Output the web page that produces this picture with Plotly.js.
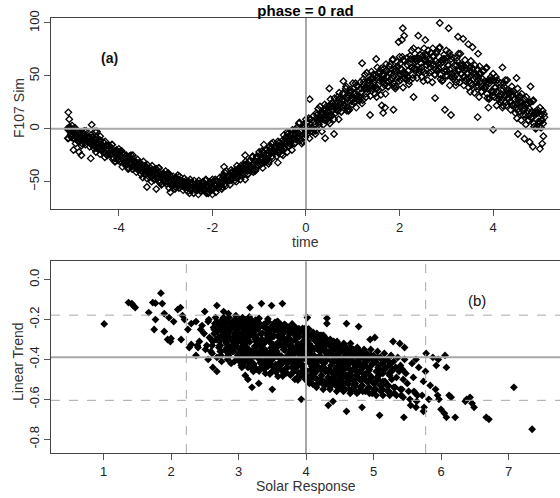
<!DOCTYPE html>
<html><head><meta charset="utf-8">
<script src="https://cdn.plot.ly/plotly-3.0.1.min.js"></script>
<style>html,body{margin:0;padding:0;background:#fff}#chart{width:560px;height:498px}</style>
</head><body><div id="chart"></div>
<script>
// ---- Panel (a): F107 Sim vs time ----
const timeA=[
-5.1,-5.075,-5.05,-5.025,-5,-4.975,-4.95,-4.925,-4.9,-4.875,
-4.85,-4.825,-4.8,-4.775,-4.75,-4.725,-4.7,-4.675,-4.65,-4.625,
-4.6,-4.575,-4.55,-4.525,-4.5,-4.475,-4.45,-4.425,-4.4,-4.375,
-4.35,-4.325,-4.3,-4.275,-4.25,-4.225,-4.2,-4.175,-4.15,-4.125,
-4.1,-4.075,-4.05,-4.025,-4,-3.975,-3.95,-3.925,-3.9,-3.875,
-3.85,-3.825,-3.8,-3.775,-3.75,-3.725,-3.7,-3.675,-3.65,-3.625,
-3.6,-3.575,-3.55,-3.525,-3.5,-3.475,-3.45,-3.425,-3.4,-3.375,
-3.35,-3.325,-3.3,-3.275,-3.25,-3.225,-3.2,-3.175,-3.15,-3.125,
-3.1,-3.075,-3.05,-3.025,-3,-2.975,-2.95,-2.925,-2.9,-2.875,
-2.85,-2.825,-2.8,-2.775,-2.75,-2.725,-2.7,-2.675,-2.65,-2.625,
-2.6,-2.575,-2.55,-2.525,-2.5,-2.475,-2.45,-2.425,-2.4,-2.375,
-2.35,-2.325,-2.3,-2.275,-2.25,-2.225,-2.2,-2.175,-2.15,-2.125,
-2.1,-2.075,-2.05,-2.025,-2,-1.975,-1.95,-1.925,-1.9,-1.875,
-1.85,-1.825,-1.8,-1.775,-1.75,-1.725,-1.7,-1.675,-1.65,-1.625,
-1.6,-1.575,-1.55,-1.525,-1.5,-1.475,-1.45,-1.425,-1.4,-1.375,
-1.35,-1.325,-1.3,-1.275,-1.25,-1.225,-1.2,-1.175,-1.15,-1.125,
-1.1,-1.075,-1.05,-1.025,-1,-0.975,-0.95,-0.925,-0.9,-0.875,
-0.85,-0.825,-0.8,-0.775,-0.75,-0.725,-0.7,-0.675,-0.65,-0.625,
-0.6,-0.575,-0.55,-0.525,-0.5,-0.475,-0.45,-0.425,-0.4,-0.375,
-0.35,-0.325,-0.3,-0.275,-0.25,-0.225,-0.2,-0.175,-0.15,-0.125,
-0.1,-0.075,-0.05,-0.025,0,0.025,0.05,0.075,0.1,0.125,
0.15,0.175,0.2,0.225,0.25,0.275,0.3,0.325,0.35,0.375,
0.4,0.425,0.45,0.475,0.5,0.525,0.55,0.575,0.6,0.625,
0.65,0.675,0.7,0.725,0.75,0.775,0.8,0.825,0.85,0.875,
0.9,0.925,0.95,0.975,1,1.025,1.05,1.075,1.1,1.125,
1.15,1.175,1.2,1.225,1.25,1.275,1.3,1.325,1.35,1.375,
1.4,1.425,1.45,1.475,1.5,1.525,1.55,1.575,1.6,1.625,
1.65,1.675,1.7,1.725,1.75,1.775,1.8,1.825,1.85,1.875,
1.9,1.925,1.95,1.975,2,2.025,2.05,2.075,2.1,2.125,
2.15,2.175,2.2,2.225,2.25,2.275,2.3,2.325,2.35,2.375,
2.4,2.425,2.45,2.475,2.5,2.525,2.55,2.575,2.6,2.625,
2.65,2.675,2.7,2.725,2.75,2.775,2.8,2.825,2.85,2.875,
2.9,2.925,2.95,2.975,3,3.025,3.05,3.075,3.1,3.125,
3.15,3.175,3.2,3.225,3.25,3.275,3.3,3.325,3.35,3.375,
3.4,3.425,3.45,3.475,3.5,3.525,3.55,3.575,3.6,3.625,
3.65,3.675,3.7,3.725,3.75,3.775,3.8,3.825,3.85,3.875,
3.9,3.925,3.95,3.975,4,4.025,4.05,4.075,4.1,4.125,
4.15,4.175,4.2,4.225,4.25,4.275,4.3,4.325,4.35,4.375,
4.4,4.425,4.45,4.475,4.5,4.525,4.55,4.575,4.6,4.625,
4.65,4.675,4.7,4.725,4.75,4.775,4.8,4.825,4.85,4.875,
4.9,4.925,4.95,4.975,5,5.025,5.05,5.075,5.1];
const f107A=[
0,-9,2,-5,3,-9,-4,-14,-2,-9,
-12,-6,-16,-3,-9,-13,-2,-11,-8,-17,
-6,-15,-12,-19,-10,-8,-19,-14,-24,-15,
-19,-13,-27,-16,-25,-19,-16,-24,-15,-29,
-21,-31,-20,-27,-19,-31,-26,-36,-24,-31,
-34,-28,-38,-26,-32,-36,-25,-35,-31,-41,
-29,-38,-36,-43,-34,-31,-43,-38,-47,-38,
-43,-37,-50,-39,-48,-42,-38,-47,-37,-51,
-43,-52,-42,-48,-40,-52,-47,-56,-45,-52,
-54,-48,-57,-46,-51,-54,-45,-53,-50,-58,
-47,-55,-53,-59,-50,-48,-58,-53,-61,-53,
-56,-51,-62,-52,-59,-54,-50,-57,-49,-61,
-53,-60,-50,-56,-48,-57,-53,-60,-50,-55,
-55,-49,-57,-44,-49,-52,-40,-49,-45,-53,
-39,-47,-43,-49,-39,-35,-46,-40,-48,-38,
-42,-34,-48,-34,-43,-35,-30,-38,-27,-41,
-30,-39,-26,-32,-22,-34,-28,-37,-23,-29,
-31,-23,-33,-17,-23,-26,-13,-22,-16,-26,
-12,-22,-17,-24,-11,-6,-19,-12,-22,-9,
-14,-5,-20,-5,-14,-5,1,-8,5,-11,
-1,-12,4,-4,9,-5,2,-9,9,1,
-3,7,-5,15,8,4,21,9,16,4,
23,10,16,7,22,28,12,21,9,24,
18,30,9,28,16,27,34,22,38,17,
32,18,37,28,43,25,34,20,40,30,
27,38,24,47,38,33,53,38,46,31,
54,38,44,33,51,58,37,48,32,51,
44,57,33,55,40,53,61,46,65,40,
57,40,63,50,68,46,56,39,64,51,
46,60,42,69,58,51,76,57,66,48,
74,55,62,49,69,76,52,64,46,66,
58,72,44,68,51,64,73,55,76,47,
65,46,70,56,74,50,60,41,66,52,
47,60,41,67,55,48,71,52,60,41,
65,47,53,39,58,64,41,52,34,52,
44,56,30,52,35,47,55,38,57,29,
46,29,49,36,52,30,39,22,43,31,
25,37,20,43,32,25,46,28,35,18,
40,23,28,15,32,38,16,25,8,25,
17,28,4,23,8,19,25,10,26,2,
16,1,18,7,20,1,8,-7,11];
const timeB=[
-5.09,-5.04,-4.99,-4.94,-4.89,-4.84,-4.79,-4.74,-4.69,-4.64,
-4.59,-4.54,-4.49,-4.44,-4.39,-4.34,-4.29,-4.24,-4.19,-4.14,
-4.09,-4.04,-3.99,-3.94,-3.89,-3.84,-3.79,-3.74,-3.69,-3.64,
-3.59,-3.54,-3.49,-3.44,-3.39,-3.34,-3.29,-3.24,-3.19,-3.14,
-3.09,-3.04,-2.99,-2.94,-2.89,-2.84,-2.79,-2.74,-2.69,-2.64,
-2.59,-2.54,-2.49,-2.44,-2.39,-2.34,-2.29,-2.24,-2.19,-2.14,
-2.09,-2.04,-1.99,-1.94,-1.89,-1.84,-1.79,-1.74,-1.69,-1.64,
-1.59,-1.54,-1.49,-1.44,-1.39,-1.34,-1.29,-1.24,-1.19,-1.14,
-1.09,-1.04,-0.99,-0.94,-0.89,-0.84,-0.79,-0.74,-0.69,-0.64,
-0.59,-0.54,-0.49,-0.44,-0.39,-0.34,-0.29,-0.24,-0.19,-0.14,
-0.09,-0.04,0.01,0.06,0.11,0.16,0.21,0.26,0.31,0.36,
0.41,0.46,0.51,0.56,0.61,0.66,0.71,0.76,0.81,0.86,
0.91,0.96,1.01,1.06,1.11,1.16,1.21,1.26,1.31,1.36,
1.41,1.46,1.51,1.56,1.61,1.66,1.71,1.76,1.81,1.86,
1.91,1.96,2.01,2.06,2.11,2.16,2.21,2.26,2.31,2.36,
2.41,2.46,2.51,2.56,2.61,2.66,2.71,2.76,2.81,2.86,
2.91,2.96,3.01,3.06,3.11,3.16,3.21,3.26,3.31,3.36,
3.41,3.46,3.51,3.56,3.61,3.66,3.71,3.76,3.81,3.86,
3.91,3.96,4.01,4.06,4.11,4.16,4.21,4.26,4.31,4.36,
4.41,4.46,4.51,4.56,4.61,4.66,4.71,4.76,4.81,4.86,
4.91,4.96,5.01,5.06];
const f107B=[
-9,0,-6,1,-11,-3,-14,-2,-11,-9,
-15,-12,-22,-11,-11,-16,-12,-25,-24,-15,
-31,-22,-28,-21,-33,-25,-37,-25,-34,-32,
-39,-36,-46,-35,-34,-40,-35,-48,-46,-37,
-53,-43,-49,-42,-53,-45,-55,-44,-52,-50,
-56,-53,-61,-51,-49,-54,-49,-59,-57,-48,
-61,-52,-55,-48,-56,-46,-55,-41,-49,-45,
-48,-43,-50,-38,-35,-38,-31,-43,-39,-26,
-40,-27,-31,-21,-32,-20,-31,-14,-22,-17,
-23,-16,-25,-9,-5,-10,-1,-14,-9,6,
-14,2,-3,10,-2,12,-2,19,9,15,
8,16,5,24,29,24,34,16,22,40,
17,35,28,43,27,44,27,51,38,45,
36,44,30,52,57,50,61,40,46,66,
38,59,51,68,48,67,45,74,57,64,
53,62,45,69,74,65,76,51,55,77,
45,66,55,72,49,67,44,71,52,58,
45,52,35,57,60,50,59,35,39,58,
28,46,35,49,28,43,22,46,29,34,
22,28,10,30,33,22,30,8,11,27,
0,15,6,17];
const timeC=[
-5.065,-5.015,-4.965,-4.915,-4.865,-4.815,-4.765,-4.715,-4.665,-4.615,
-4.565,-4.515,-4.465,-4.415,-4.365,-4.315,-4.265,-4.215,-4.165,-4.115,
-4.065,-4.015,-3.965,-3.915,-3.865,-3.815,-3.765,-3.715,-3.665,-3.615,
-3.565,-3.515,-3.465,-3.415,-3.365,-3.315,-3.265,-3.215,-3.165,-3.115,
-3.065,-3.015,-2.965,-2.915,-2.865,-2.815,-2.765,-2.715,-2.665,-2.615,
-2.565,-2.515,-2.465,-2.415,-2.365,-2.315,-2.265,-2.215,-2.165,-2.115,
-2.065,-2.015,-1.965,-1.915,-1.865,-1.815,-1.765,-1.715,-1.665,-1.615,
-1.565,-1.515,-1.465,-1.415,-1.365,-1.315,-1.265,-1.215,-1.165,-1.115,
-1.065,-1.015,-0.965,-0.915,-0.865,-0.815,-0.765,-0.715,-0.665,-0.615,
-0.565,-0.515,-0.465,-0.415,-0.365,-0.315,-0.265,-0.215,-0.165,-0.115,
-0.065,-0.015,0.035,0.085,0.135,0.185,0.235,0.285,0.335,0.385,
0.435,0.485,0.535,0.585,0.635,0.685,0.735,0.785,0.835,0.885,
0.935,0.985,1.035,1.085,1.135,1.185,1.235,1.285,1.335,1.385,
1.435,1.485,1.535,1.585,1.635,1.685,1.735,1.785,1.835,1.885,
1.935,1.985,2.035,2.085,2.135,2.185,2.235,2.285,2.335,2.385,
2.435,2.485,2.535,2.585,2.635,2.685,2.735,2.785,2.835,2.885,
2.935,2.985,3.035,3.085,3.135,3.185,3.235,3.285,3.335,3.385,
3.435,3.485,3.535,3.585,3.635,3.685,3.735,3.785,3.835,3.885,
3.935,3.985,4.035,4.085,4.135,4.185,4.235,4.285,4.335,4.385,
4.435,4.485,4.535,4.585,4.635,4.685,4.735,4.785,4.835,4.885,
4.935,4.985,5.035,5.085];
const f107C=[
0,-8,-4,-1,-9,-9,-5,-15,-9,-8,
-8,-17,-13,-17,-21,-22,-20,-16,-24,-22,
-22,-30,-26,-23,-31,-31,-28,-38,-32,-32,
-32,-40,-36,-40,-45,-45,-43,-38,-46,-44,
-43,-51,-47,-44,-52,-51,-47,-56,-51,-50,
-49,-56,-52,-55,-58,-58,-55,-51,-57,-54,
-52,-58,-53,-49,-55,-51,-45,-54,-46,-44,
-40,-46,-40,-42,-44,-43,-38,-31,-37,-33,
-28,-35,-28,-22,-29,-26,-19,-28,-19,-15,
-13,-20,-12,-14,-16,-15,-9,-1,-7,-2,
1,-8,1,9,1,4,13,1,13,18,
21,12,21,18,15,17,23,33,24,29,
34,23,33,41,31,34,44,30,43,47,
51,38,49,45,39,41,49,59,48,54,
58,45,56,65,52,55,66,48,63,67,
70,55,66,60,53,54,61,71,57,62,
66,50,60,69,52,54,64,44,57,59,
60,45,54,47,40,40,45,54,40,44,
46,31,39,46,31,32,40,22,33,35,
35,20,28,21,13,13,17,25,11,15,
15,2,8,14];
const timeD=[
-5.08,-5.03,-4.98,-4.93,-4.88,-4.83,-4.78,-4.73,-4.68,-4.63,
-4.58,-4.53,-4.48,-4.43,-4.38,-4.33,-4.28,-4.23,-4.18,-4.13,
-4.08,-4.03,-3.98,-3.93,-3.88,-3.83,-3.78,-3.73,-3.68,-3.63,
-3.58,-3.53,-3.48,-3.43,-3.38,-3.33,-3.28,-3.23,-3.18,-3.13,
-3.08,-3.03,-2.98,-2.93,-2.88,-2.83,-2.78,-2.73,-2.68,-2.63,
-2.58,-2.53,-2.48,-2.43,-2.38,-2.33,-2.28,-2.23,-2.18,-2.13,
-2.08,-2.03,-1.98,-1.93,-1.88,-1.83,-1.78,-1.73,-1.68,-1.63,
-1.58,-1.53,-1.48,-1.43,-1.38,-1.33,-1.28,-1.23,-1.18,-1.13,
-1.08,-1.03,-0.98,-0.93,-0.88,-0.83,-0.78,-0.73,-0.68,-0.63,
-0.58,-0.53,-0.48,-0.43,-0.38,-0.33,-0.28,-0.23,-0.18,-0.13,
-0.08,-0.03,0.02,0.07,0.12,0.17,0.22,0.27,0.32,0.37,
0.42,0.47,0.52,0.57,0.62,0.67,0.72,0.77,0.82,0.87,
0.92,0.97,1.02,1.07,1.12,1.17,1.22,1.27,1.32,1.37,
1.42,1.47,1.52,1.57,1.62,1.67,1.72,1.77,1.82,1.87,
1.92,1.97,2.02,2.07,2.12,2.17,2.22,2.27,2.32,2.37,
2.42,2.47,2.52,2.57,2.62,2.67,2.72,2.77,2.82,2.87,
2.92,2.97,3.02,3.07,3.12,3.17,3.22,3.27,3.32,3.37,
3.42,3.47,3.52,3.57,3.62,3.67,3.72,3.77,3.82,3.87,
3.92,3.97,4.02,4.07,4.12,4.17,4.22,4.27,4.32,4.37,
4.42,4.47,4.52,4.57,4.62,4.67,4.72,4.77,4.82,4.87,
4.92,4.97,5.02,5.07];
const f107D=[
-1,-6,-1,-7,-11,-11,-7,-10,-8,-13,
-10,-15,-18,-11,-16,-18,-16,-23,-21,-27,
-23,-28,-22,-28,-33,-34,-29,-32,-31,-37,
-33,-38,-41,-35,-40,-42,-39,-45,-43,-49,
-45,-49,-43,-49,-53,-53,-49,-51,-49,-54,
-51,-55,-57,-51,-54,-55,-52,-57,-54,-59,
-54,-57,-50,-54,-56,-54,-47,-49,-45,-49,
-42,-45,-46,-37,-40,-40,-34,-39,-35,-39,
-31,-34,-25,-29,-31,-29,-21,-22,-17,-21,
-16,-19,-19,-8,-11,-12,-5,-10,-4,-9,
-2,-5,6,1,-2,-1,10,8,15,9,
18,13,12,25,21,21,29,21,27,20,
31,26,38,31,28,29,41,38,45,38,
47,41,38,54,47,47,55,45,52,43,
55,48,62,53,48,49,62,58,66,56,
66,58,54,70,62,61,69,56,62,51,
63,54,67,56,49,49,60,55,60,49,
57,48,43,57,49,46,53,40,45,33,
43,35,46,35,28,27,37,31,36,26,
32,23,18,31,22,19,24,12,16,5,
14,5,14,5];
const timeOut=[-5.08,-5.06,-4.47,-4.40,-4.58,-4.51,-4.97,-4.8,-4.85,-4.6,
-3.4,-3.2,-2.9,-2.0,-1.75,-1.3,-0.9,-0.6,-0.4,0.08,
0.34,0.41,0.6,1.37,1.65,1.69,1.87,1.62,1.98,2.05,
2.1,2.07,2.86,3.05,3.25,3.36,3.47,3.56,3.68,2.76,
2.97,3.1,3.67,4.0,4.53,4.67,4.78,4.85,5.0,5.05,
1.2,1.5,0.8,0.5,2.4,2.55,4.2,4.5,4.8,2.3,3.9];
const f107Out=[15.5,9,-2.5,-7,3.8,-2.5,-20,-25,-22,-28,
-55,-57,-60,-62,-36,-25,-15,-32,-3,28,
-2.5,-9,-5,13,15,20,18,22,82,84,
88,95,100,95,87,85,80,77,71,29,
18,13,11,-1,-5,-9.5,-12.5,-17,-19,-14,
62,66,45,38,88,84,58,48,40,30,20];

// ---- Panel (b): Linear Trend vs Solar Response ----
const solarCore=[
2.37,2.42,2.44,2.39,
2.46,2.53,2.49,2.51,2.55,
2.56,2.62,2.59,2.64,2.57,2.61,2.65,
2.66,2.72,2.69,2.74,2.71,2.67,2.73,2.68,2.75,
2.76,2.82,2.79,2.84,2.77,2.81,2.85,2.78,2.83,2.8,2.75,
2.86,2.92,2.88,2.94,2.9,2.87,2.93,2.89,2.95,2.91,2.85,2.94,2.88,
2.96,3.02,2.98,3.04,3.0,2.97,3.03,2.99,3.05,3.01,2.955,3.035,2.985,3.015,3.045,
3.06,3.12,3.08,3.14,3.1,3.07,3.13,3.09,3.15,3.11,3.055,3.135,3.085,3.115,3.145,3.065,
3.16,3.23,3.2,3.18,3.245,3.17,3.21,3.24,3.155,3.22,3.19,3.235,3.165,3.225,3.185,3.205,3.25,3.175,
3.27,3.31,3.34,3.255,3.32,3.29,3.335,3.265,3.325,3.285,3.305,3.35,3.275,3.26,3.33,3.3,3.28,3.345,
3.36,3.43,3.4,3.38,3.445,3.37,3.41,3.44,3.355,3.42,3.39,3.435,3.365,3.425,3.385,3.405,3.45,3.375,
3.535,3.465,3.525,3.485,3.505,3.55,3.475,3.46,3.53,3.5,3.48,3.545,3.47,3.51,3.54,3.455,3.52,3.49,
3.555,3.62,3.59,3.635,3.565,3.625,3.585,3.605,3.65,3.575,3.56,3.63,3.6,3.58,3.645,3.57,3.61,3.64,
3.7,3.68,3.745,3.67,3.71,3.74,3.655,3.72,3.69,3.735,3.665,3.725,3.685,3.705,3.75,3.675,3.66,3.73,
3.785,3.805,3.85,3.775,3.76,3.83,3.8,3.78,3.845,3.77,3.81,3.84,3.755,3.82,3.79,3.835,3.765,3.825,
3.91,3.94,3.855,3.92,3.89,3.935,3.865,3.925,3.885,3.905,3.95,3.875,3.86,3.93,3.9,3.88,3.945,3.87,
4.05,3.975,3.96,4.03,4.0,3.98,4.045,3.97,4.01,4.04,3.955,4.02,3.99,4.035,3.965,4.025,3.985,4.005,
4.09,4.135,4.065,4.125,4.085,4.105,4.15,4.075,4.06,4.13,4.1,4.08,4.145,4.07,4.11,4.14,4.055,4.12,
4.16,4.22,4.18,4.24,4.2,4.17,4.23,4.19,4.25,4.21,4.155,4.235,4.185,4.215,4.245,4.165,4.205,
4.26,4.32,4.28,4.34,4.3,4.27,4.33,4.29,4.35,4.31,4.255,4.335,4.285,4.315,4.345,4.265,
4.36,4.42,4.38,4.44,4.4,4.37,4.43,4.39,4.45,4.41,4.355,4.435,4.385,4.415,4.445,
4.46,4.52,4.48,4.54,4.5,4.47,4.53,4.49,4.55,4.51,4.455,4.535,4.485,4.515,
4.56,4.62,4.58,4.64,4.6,4.57,4.63,4.59,4.65,4.61,4.555,4.635,4.585,
4.66,4.72,4.68,4.74,4.7,4.67,4.73,4.69,4.75,4.71,4.655,4.735,
4.76,4.82,4.78,4.84,4.8,4.77,4.83,4.79,4.85,4.81,4.755,
4.86,4.92,4.88,4.94,4.9,4.87,4.93,4.89,4.95,4.91,
4.96,5.02,4.98,5.04,5.0,4.97,5.03,4.99,5.05,
5.06,5.12,5.08,5.14,5.1,5.07,5.13,5.09,
5.16,5.22,5.18,5.24,5.2,5.17,5.23,
5.26,5.32,5.28,5.34,5.3,5.27,
5.36,5.42,5.38,5.44,5.4,
5.46,5.52,5.48,5.54,5.5,
5.57,5.62,5.59,5.64,
5.67,5.72,5.74,
5.77,5.82,5.84];
const trendCore=[
-0.21,-0.31,-0.25,-0.33,
-0.23,-0.33,-0.27,-0.35,-0.21,
-0.2,-0.31,-0.36,-0.25,-0.29,-0.37,-0.22,
-0.19,-0.33,-0.26,-0.38,-0.23,-0.3,-0.36,-0.21,-0.28,
-0.2,-0.36,-0.26,-0.4,-0.23,-0.31,-0.38,-0.19,-0.34,-0.28,-0.41,
-0.19,-0.33,-0.25,-0.41,-0.22,-0.36,-0.29,-0.42,-0.2,-0.31,-0.38,-0.27,-0.35,
-0.18,-0.35,-0.24,-0.43,-0.21,-0.31,-0.39,-0.27,-0.44,-0.2,-0.33,-0.37,-0.25,-0.41,-0.29,
-0.19,-0.34,-0.26,-0.44,-0.21,-0.3,-0.4,-0.23,-0.37,-0.28,-0.43,-0.2,-0.33,-0.39,-0.25,-0.32,
-0.187,-0.369,-0.243,-0.439,-0.299,-0.404,-0.215,-0.334,-0.271,-0.46,-0.229,-0.383,-0.313,-0.425,-0.201,-0.355,-0.257,-0.397,
-0.332,-0.227,-0.437,-0.283,-0.381,-0.199,-0.353,-0.311,-0.416,-0.241,-0.458,-0.269,-0.367,-0.213,-0.325,-0.395,-0.297,-0.423,
-0.344,-0.281,-0.47,-0.239,-0.393,-0.323,-0.435,-0.211,-0.365,-0.267,-0.407,-0.197,-0.379,-0.253,-0.449,-0.309,-0.414,-0.225,
-0.256,-0.473,-0.284,-0.382,-0.228,-0.34,-0.41,-0.312,-0.438,-0.347,-0.242,-0.452,-0.298,-0.396,-0.214,-0.368,-0.326,-0.431,
-0.464,-0.324,-0.429,-0.24,-0.359,-0.296,-0.485,-0.254,-0.408,-0.338,-0.45,-0.226,-0.38,-0.282,-0.422,-0.212,-0.394,-0.268,
-0.406,-0.224,-0.378,-0.336,-0.441,-0.266,-0.483,-0.294,-0.392,-0.238,-0.35,-0.42,-0.322,-0.448,-0.357,-0.252,-0.462,-0.308,
-0.353,-0.465,-0.241,-0.395,-0.297,-0.437,-0.227,-0.409,-0.283,-0.479,-0.339,-0.444,-0.255,-0.374,-0.311,-0.5,-0.269,-0.423,
-0.258,-0.37,-0.44,-0.342,-0.468,-0.377,-0.272,-0.482,-0.328,-0.426,-0.244,-0.398,-0.356,-0.461,-0.286,-0.503,-0.314,-0.412,
-0.52,-0.289,-0.443,-0.373,-0.485,-0.261,-0.415,-0.317,-0.457,-0.247,-0.429,-0.303,-0.499,-0.359,-0.464,-0.275,-0.394,-0.331,
-0.397,-0.292,-0.502,-0.348,-0.446,-0.264,-0.418,-0.376,-0.481,-0.306,-0.523,-0.334,-0.432,-0.278,-0.39,-0.46,-0.362,-0.488,
-0.27,-0.45,-0.33,-0.52,-0.29,-0.41,-0.48,-0.31,-0.44,-0.36,-0.54,-0.28,-0.39,-0.5,-0.34,-0.43,-0.38,
-0.28,-0.46,-0.35,-0.53,-0.3,-0.42,-0.49,-0.33,-0.45,-0.38,-0.55,-0.31,-0.4,-0.51,-0.36,-0.44,
-0.3,-0.47,-0.36,-0.53,-0.32,-0.43,-0.5,-0.34,-0.46,-0.39,-0.55,-0.33,-0.41,-0.49,-0.38,
-0.31,-0.48,-0.37,-0.55,-0.33,-0.44,-0.51,-0.35,-0.47,-0.4,-0.56,-0.34,-0.42,-0.5,
-0.32,-0.49,-0.38,-0.55,-0.34,-0.45,-0.52,-0.36,-0.47,-0.41,-0.56,-0.35,-0.43,
-0.32,-0.5,-0.39,-0.56,-0.35,-0.46,-0.53,-0.37,-0.48,-0.42,-0.57,-0.44,
-0.34,-0.5,-0.4,-0.56,-0.36,-0.47,-0.53,-0.38,-0.49,-0.43,-0.57,
-0.35,-0.51,-0.41,-0.57,-0.37,-0.48,-0.54,-0.39,-0.5,-0.44,
-0.35,-0.52,-0.42,-0.58,-0.38,-0.49,-0.55,-0.4,-0.46,
-0.36,-0.53,-0.43,-0.58,-0.39,-0.5,-0.55,-0.45,
-0.37,-0.53,-0.44,-0.58,-0.4,-0.51,-0.47,
-0.38,-0.54,-0.45,-0.58,-0.41,-0.5,
-0.39,-0.55,-0.46,-0.59,-0.43,
-0.4,-0.56,-0.47,-0.6,-0.52,
-0.42,-0.57,-0.49,-0.61,
-0.44,-0.58,-0.51,
-0.46,-0.6,-0.53];
const solarCore2=[
2.77,2.73,2.76,2.74,2.78,
2.87,2.83,2.86,2.84,2.88,2.82,2.85,
2.97,2.93,2.96,2.94,2.98,2.92,2.95,2.99,
3.07,3.03,3.06,3.04,3.08,3.02,3.05,3.09,3.01,3.065,
3.17,3.13,3.16,3.14,3.18,3.12,3.15,3.19,3.11,3.165,3.135,
3.27,3.22,3.29,3.24,3.25,3.285,3.21,3.265,3.23,3.295,3.205,3.28,
3.34,3.35,3.385,3.31,3.365,3.33,3.395,3.305,3.38,3.37,3.32,3.39,
3.41,3.465,3.43,3.495,3.405,3.48,3.47,3.42,3.49,3.44,3.45,3.485,
3.595,3.505,3.58,3.57,3.52,3.59,3.54,3.55,3.585,3.51,3.565,3.53,
3.62,3.69,3.64,3.65,3.685,3.61,3.665,3.63,3.695,3.605,3.68,3.67,
3.75,3.785,3.71,3.765,3.73,3.795,3.705,3.78,3.77,3.72,3.79,3.74,
3.865,3.83,3.895,3.805,3.88,3.87,3.82,3.89,3.84,3.85,3.885,3.81,
3.905,3.98,3.97,3.92,3.99,3.94,3.95,3.985,3.91,3.965,3.93,3.995,
4.07,4.02,4.09,4.04,4.05,4.085,4.01,4.065,4.03,4.095,4.005,4.08,
4.17,4.13,4.16,4.14,4.18,4.12,4.15,4.19,4.11,4.165,4.135,
4.27,4.23,4.26,4.24,4.28,4.22,4.25,4.29,4.21,4.265,4.235,
4.37,4.33,4.36,4.34,4.38,4.32,4.35,4.39,4.31,4.365,
4.47,4.43,4.46,4.44,4.48,4.42,4.45,4.49,4.41,4.465,
4.57,4.53,4.56,4.54,4.58,4.52,4.55,4.59,4.51,
4.67,4.63,4.66,4.64,4.68,4.62,4.65,4.69,
4.77,4.73,4.76,4.74,4.78,4.72,4.75,4.79,
4.87,4.83,4.86,4.84,4.88,4.82,4.85,
4.97,4.93,4.96,4.94,4.98,4.92,
5.07,5.03,5.06,5.04,5.08,
5.17,5.13,5.16,5.14,
5.27,5.23,5.26];
const trendCore2=[
-0.25,-0.33,-0.28,-0.36,-0.22,
-0.24,-0.35,-0.29,-0.39,-0.22,-0.32,-0.27,
-0.26,-0.36,-0.21,-0.33,-0.4,-0.29,-0.23,-0.38,
-0.27,-0.38,-0.2,-0.34,-0.42,-0.3,-0.24,-0.36,-0.22,-0.41,
-0.28,-0.39,-0.21,-0.35,-0.44,-0.31,-0.24,-0.37,-0.2,-0.42,-0.3,
-0.308,-0.42,-0.245,-0.357,-0.203,-0.392,-0.28,-0.448,-0.224,-0.329,-0.259,-0.371,
-0.411,-0.299,-0.348,-0.236,-0.439,-0.271,-0.383,-0.194,-0.369,-0.32,-0.222,-0.355,
-0.216,-0.405,-0.293,-0.461,-0.237,-0.342,-0.272,-0.384,-0.321,-0.433,-0.258,-0.37,
-0.286,-0.398,-0.209,-0.384,-0.335,-0.237,-0.37,-0.426,-0.314,-0.363,-0.251,-0.454,
-0.249,-0.354,-0.284,-0.396,-0.333,-0.445,-0.27,-0.382,-0.228,-0.417,-0.305,-0.473,
-0.376,-0.264,-0.467,-0.299,-0.411,-0.222,-0.397,-0.348,-0.25,-0.383,-0.439,-0.327,
-0.288,-0.4,-0.246,-0.435,-0.323,-0.491,-0.267,-0.372,-0.302,-0.414,-0.351,-0.463,
-0.417,-0.368,-0.27,-0.403,-0.459,-0.347,-0.396,-0.284,-0.487,-0.319,-0.431,-0.242,
-0.343,-0.511,-0.287,-0.392,-0.322,-0.434,-0.371,-0.483,-0.308,-0.42,-0.266,-0.455,
-0.35,-0.47,-0.29,-0.43,-0.52,-0.38,-0.31,-0.45,-0.27,-0.5,-0.4,
-0.36,-0.48,-0.3,-0.44,-0.53,-0.39,-0.32,-0.46,-0.28,-0.51,-0.41,
-0.37,-0.49,-0.31,-0.45,-0.53,-0.4,-0.33,-0.47,-0.3,-0.51,
-0.38,-0.5,-0.32,-0.46,-0.54,-0.41,-0.34,-0.48,-0.31,-0.52,
-0.39,-0.51,-0.33,-0.47,-0.55,-0.42,-0.35,-0.49,-0.44,
-0.4,-0.51,-0.34,-0.48,-0.55,-0.43,-0.36,-0.5,
-0.41,-0.52,-0.36,-0.49,-0.56,-0.44,-0.38,-0.5,
-0.42,-0.53,-0.37,-0.5,-0.56,-0.45,-0.39,
-0.43,-0.54,-0.38,-0.5,-0.57,-0.46,
-0.44,-0.55,-0.39,-0.51,-0.48,
-0.45,-0.55,-0.41,-0.51,
-0.46,-0.56,-0.42];
const solarCore3=[
4.43,4.41,4.44,4.4,4.42,4.45,4.39,4.435,
4.53,4.5,4.54,4.51,4.52,4.55,4.49,4.535,
4.63,4.6,4.64,4.61,4.62,4.65,4.59,
4.73,4.7,4.74,4.71,4.72,4.75,4.69,
4.83,4.8,4.84,4.81,4.82,4.85,4.79,
4.93,4.9,4.94,4.91,4.92,4.95,
5.03,5.0,5.04,5.01,5.02,5.05,
5.13,5.1,5.14,5.11,5.12,
5.23,5.2,5.24,5.21,5.22,
5.33,5.3,5.34,5.31,
5.43,5.4,5.44,5.41,
2.63,2.6,2.64,2.61,
2.73,2.7,2.74,2.71,2.72,
2.83,2.8,2.84,2.81,2.82,2.85,
2.93,2.9,2.94,2.91,2.92,2.95,
3.03,3.0,3.04,3.01,3.02,3.05,2.99,
3.13,3.1,3.14,3.11,3.12,3.15,3.09];
const trendCore3=[
-0.35,-0.46,-0.4,-0.5,-0.33,-0.44,-0.38,-0.52,
-0.36,-0.47,-0.41,-0.51,-0.34,-0.45,-0.39,-0.53,
-0.37,-0.48,-0.42,-0.52,-0.35,-0.45,-0.4,
-0.38,-0.49,-0.43,-0.53,-0.36,-0.46,-0.41,
-0.39,-0.5,-0.44,-0.54,-0.37,-0.47,-0.42,
-0.4,-0.51,-0.45,-0.55,-0.38,-0.48,
-0.41,-0.52,-0.46,-0.55,-0.39,-0.49,
-0.42,-0.53,-0.47,-0.56,-0.4,
-0.43,-0.53,-0.48,-0.56,-0.41,
-0.44,-0.54,-0.49,-0.57,
-0.45,-0.55,-0.5,-0.58,
-0.24,-0.3,-0.27,-0.33,
-0.22,-0.29,-0.25,-0.34,-0.31,
-0.24,-0.3,-0.27,-0.35,-0.21,-0.33,
-0.23,-0.3,-0.27,-0.36,-0.21,-0.34,
-0.23,-0.31,-0.27,-0.37,-0.21,-0.34,-0.29,
-0.24,-0.32,-0.28,-0.38,-0.22,-0.35,-0.3];
const solarOut=[1.01,1.37,1.42,1.47,1.44,1.67,1.73,1.77,1.85,1.87,
1.9,1.75,1.77,1.9,1.95,1.99,2.0,1.97,2.04,2.1,
2.14,2.17,2.27,2.3,2.37,2.4,2.62,2.68,2.68,3.14,
3.2,2.68,2.78,2.85,3.17,3.34,3.49,3.65,4.31,4.6,
4.02,4.31,4.78,4.95,5.02,5.29,5.39,5.46,5.63,5.78,
5.88,5.96,6.06,5.93,6.08,7.08,7.35,6.67,6.71,6.49,
6.46,6.36,6.38,6.43,6.21,6.12,6.15,6.05,6.08,6.0,
5.74,5.75,5.55,5.63,5.45,5.09,4.6,4.33,4.4,3.93,
4.83,5.92,5.95,5.97,5.6,5.65,3.1,3.3,3.5,2.2,
2.25,2.15,2.3,2.5,2.55];
const trendOut=[-0.222,-0.115,-0.12,-0.14,-0.13,-0.165,-0.115,-0.118,-0.068,-0.12,
-0.17,-0.25,-0.2,-0.26,-0.3,-0.31,-0.295,-0.19,-0.21,-0.15,
-0.14,-0.18,-0.34,-0.325,-0.38,-0.34,-0.44,-0.46,-0.39,-0.5,
-0.54,-0.13,-0.16,-0.17,-0.14,-0.12,-0.13,-0.12,-0.194,-0.22,
-0.19,-0.22,-0.235,-0.3,-0.29,-0.31,-0.32,-0.34,-0.4,-0.37,
-0.39,-0.4,-0.38,-0.43,-0.44,-0.54,-0.75,-0.69,-0.7,-0.64,
-0.62,-0.61,-0.6,-0.59,-0.69,-0.58,-0.59,-0.67,-0.69,-0.65,
-0.66,-0.64,-0.63,-0.64,-0.69,-0.68,-0.66,-0.63,-0.61,-0.6,
-0.64,-0.55,-0.58,-0.6,-0.56,-0.58,-0.48,-0.52,-0.55,-0.2,
-0.25,-0.3,-0.22,-0.16,-0.4];

// reference lines (panel b): mean and dashed bounds
const trendMean=-0.389, trendBounds=[-0.178,-0.605];
const solarMean=4.0, solarBounds=[2.227,5.773];

const FONT='"Liberation Sans", Arial, sans-serif';
const axisBase={showgrid:false,zeroline:false,ticks:'outside',ticklen:6,tickwidth:1,tickcolor:'#555',
  showline:true,linecolor:'#444',linewidth:1,tickfont:{family:FONT,size:13,color:'#222'}};

const traces=[
 {x:timeA.concat(timeB,timeC,timeD,timeOut),y:f107A.concat(f107B,f107C,f107D,f107Out),type:'scatter',mode:'markers',xaxis:'x',yaxis:'y',
  marker:{symbol:'diamond-open',size:5,color:'#000',line:{width:1.35,color:'#000'}},hoverinfo:'skip'},
 {x:solarCore.concat(solarCore2,solarCore3,solarOut),y:trendCore.concat(trendCore2,trendCore3,trendOut),type:'scatter',mode:'markers',xaxis:'x2',yaxis:'y2',
  marker:{symbol:'diamond',size:6,color:'#000',line:{width:0}},hoverinfo:'skip'}
];

const gray='#a8a8a8';
const shapes=[
 {type:'line',xref:'x domain',yref:'y',x0:0,x1:1,y0:0,y1:0,line:{color:gray,width:2},layer:'above'},
 {type:'line',xref:'x',yref:'y domain',x0:0,x1:0,y0:0,y1:1,line:{color:gray,width:2},layer:'above'},
 {type:'line',xref:'x2 domain',yref:'y2',x0:0,x1:1,y0:trendMean,y1:trendMean,line:{color:gray,width:2},layer:'above'},
 {type:'line',xref:'x2',yref:'y2 domain',x0:solarMean,x1:solarMean,y0:0,y1:1,line:{color:gray,width:2},layer:'above'}
];
trendBounds.forEach(v=>shapes.push({type:'line',xref:'x2 domain',yref:'y2',x0:0,x1:1,y0:v,y1:v,line:{color:gray,width:1,dash:'dash'},layer:'above'}));
solarBounds.forEach(v=>shapes.push({type:'line',xref:'x2',yref:'y2 domain',x0:v,x1:v,y0:0,y1:1,line:{color:gray,width:1,dash:'dash'},layer:'above'}));

const tf={family:FONT,size:14,color:'#333'};
const layout={
 width:560,height:498,margin:{l:51,r:0,t:18,b:45},showlegend:false,
 paper_bgcolor:'#fff',plot_bgcolor:'#fff',
 title:{text:'<b>phase = 0 rad</b>',font:{family:FONT,size:15,color:'#000'},xref:'paper',x:0.5,xanchor:'center',yref:'container',y:1-11/498,yanchor:'middle'},
 xaxis:Object.assign({},axisBase,{domain:[0,1],range:[-5.45,5.43],tickvals:[-4,-2,0,2,4],ticktext:['-4','-2','0','2','4'],anchor:'y',mirror:true}),
 yaxis:Object.assign({},axisBase,{domain:[0.561,1],range:[-75.8,104.7],tickvals:[-50,0,50,100],tickangle:-90,anchor:'x'}),
 xaxis2:Object.assign({},axisBase,{domain:[0,1],range:[0.222,7.763],tickvals:[1,2,3,4,5,6,7],anchor:'y2',mirror:true}),
 yaxis2:Object.assign({},axisBase,{domain:[0,0.4407],range:[-0.869,0.092],tickvals:[-0.8,-0.6,-0.4,-0.2,0],ticktext:['-0.8','-0.6','-0.4','-0.2','0.0'],tickangle:-90,anchor:'x2'}),
 shapes:shapes,
 annotations:[
  {text:'<b>(a)</b>',xref:'x',yref:'y',x:-4.2,y:67,showarrow:false,font:{family:FONT,size:14,color:'#111'}},
  {text:'(b)',xref:'x2',yref:'y2',x:6.53,y:-0.106,showarrow:false,font:{family:FONT,size:15,color:'#111'}},
  {text:'F107 Sim',xref:'paper',yref:'paper',x:(19-51)/509,y:1-(108-18)/435,textangle:-90,showarrow:false,font:tf,xanchor:'center',yanchor:'middle'},
  {text:'time',xref:'paper',yref:'paper',x:0.5,y:1-(241.7-18)/435,showarrow:false,font:tf,xanchor:'center',yanchor:'middle'},
  {text:'Linear Trend',xref:'paper',yref:'paper',x:(18-51)/509,y:1-(362-18)/435,textangle:-90,showarrow:false,font:tf,xanchor:'center',yanchor:'middle'},
  {text:'Solar Response',xref:'paper',yref:'paper',x:0.5,y:1-(486-18)/435,showarrow:false,font:tf,xanchor:'center',yanchor:'middle'}
 ]
};
Plotly.newPlot('chart',traces,layout,{staticPlot:true,displayModeBar:false});
</script></body></html>
